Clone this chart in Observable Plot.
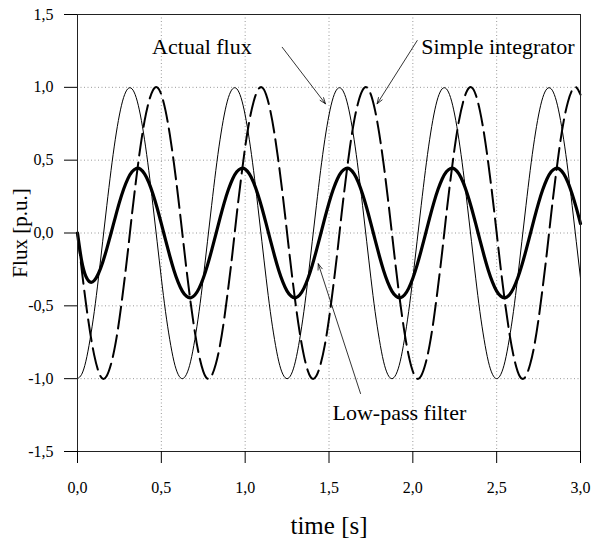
<!DOCTYPE html>
<html><head><meta charset="utf-8">
<script src="https://cdn.jsdelivr.net/npm/d3@7"></script>
<script src="https://cdn.jsdelivr.net/npm/@observablehq/plot@0.6"></script>
<style>body{margin:0;background:#fff}</style>
</head><body><div id="chart"></div>
<script>
// time samples every 0.025 s from 0 to 3 s
const timeStep = 0.025;
const xTicks = [0, 0.5, 1, 1.5, 2, 2.5, 3];
const yTicks = [-1.5, -1, -0.5, 0, 0.5, 1, 1.5];
const xGrid = [0.5, 1, 1.5, 2, 2.5];
const yGrid = [-1, -0.5, 0, 0.5, 1];

const actualFlux = [
-1,-0.97,-0.88,-0.73,-0.54,-0.31,-0.06,0.19,0.43,0.64,0.81,0.93,0.99,0.99,0.93,0.81,0.64,0.43,0.19,-0.06,-0.31,-0.54,-0.73,-0.88,-0.97,
-1,-0.97,-0.88,-0.73,-0.54,-0.31,-0.06,0.19,0.43,0.64,0.81,0.93,0.99,0.99,0.93,0.81,0.64,0.43,0.19,-0.06,-0.31,-0.54,-0.73,-0.88,-0.97,
-1,-0.97,-0.88,-0.73,-0.54,-0.31,-0.06,0.19,0.43,0.64,0.81,0.93,0.99,0.99,0.93,0.81,0.64,0.43,0.19,-0.06,-0.31,-0.54,-0.73,-0.88,-0.97,
-1,-0.97,-0.88,-0.73,-0.54,-0.31,-0.06,0.19,0.43,0.64,0.81,0.93,0.99,0.99,0.93,0.81,0.64,0.43,0.19,-0.06,-0.31,-0.54,-0.73,-0.88,-0.97,
-1,-0.97,-0.88,-0.73,-0.54,-0.31,-0.06,0.19,0.43,0.64,0.81,0.93,0.99,0.99,0.93,0.81,0.64,0.43,0.19,-0.06,-0.31
];
const simpleIntegrator = [
0,-0.25,-0.48,-0.68,-0.84,-0.95,-1,-0.98,-0.9,-0.77,-0.59,-0.37,-0.13,0.13,0.37,0.59,0.77,0.9,0.98,1,0.95,0.84,0.68,0.48,0.25,
0,-0.25,-0.48,-0.68,-0.84,-0.95,-1,-0.98,-0.9,-0.77,-0.59,-0.37,-0.13,0.13,0.37,0.59,0.77,0.9,0.98,1,0.95,0.84,0.68,0.48,0.25,
0,-0.25,-0.48,-0.68,-0.84,-0.95,-1,-0.98,-0.9,-0.77,-0.59,-0.37,-0.13,0.13,0.37,0.59,0.77,0.9,0.98,1,0.95,0.84,0.68,0.48,0.25,
0,-0.25,-0.48,-0.68,-0.84,-0.95,-1,-0.98,-0.9,-0.77,-0.59,-0.37,-0.13,0.13,0.37,0.59,0.77,0.9,0.98,1,0.95,0.84,0.68,0.48,0.25,
0,-0.25,-0.48,-0.68,-0.84,-0.95,-1,-0.98,-0.9,-0.77,-0.59,-0.37,-0.13,0.13,0.37,0.59,0.77,0.9,0.98,1,0.95
];
const lowPassFilter = [
0,-0.193,-0.298,-0.337,-0.326,-0.278,-0.202,-0.107,-0.002,0.106,0.21,0.3,0.372,0.42,0.443,0.439,0.406,0.348,0.268,0.172,0.064,-0.047,-0.156,-0.255,-0.337,
-0.399,-0.435,-0.445,-0.426,-0.38,-0.311,-0.222,-0.119,-0.009,0.102,0.207,0.298,0.371,0.42,0.443,0.439,0.406,0.348,0.268,0.172,0.064,-0.047,-0.156,-0.255,-0.337,
-0.399,-0.435,-0.445,-0.426,-0.38,-0.311,-0.222,-0.119,-0.009,0.102,0.207,0.298,0.371,0.42,0.443,0.439,0.406,0.348,0.268,0.172,0.064,-0.047,-0.156,-0.255,-0.337,
-0.399,-0.435,-0.445,-0.426,-0.38,-0.311,-0.222,-0.119,-0.009,0.102,0.207,0.298,0.371,0.42,0.443,0.439,0.406,0.348,0.268,0.172,0.064,-0.047,-0.156,-0.255,-0.337,
-0.399,-0.435,-0.445,-0.426,-0.38,-0.311,-0.222,-0.119,-0.009,0.102,0.207,0.298,0.371,0.42,0.443,0.439,0.406,0.348,0.268,0.172,0.064
];

const labelText = ["Actual flux", "Simple integrator", "Low-pass filter"];
const labelX = [0.742, 2.507, 1.92];
const labelY = [1.232, 1.232, -1.287];
const arrowX1 = [1.221, 2.026, 1.688];
const arrowY1 = [1.275, 1.321, -1.102];
const arrowX2 = [1.479, 1.787, 1.436];
const arrowY2 = [0.887, 0.887, -0.211];

const rows = vals => vals.map((v, i) => ({t: +(i * timeStep).toFixed(3), v}));
const labels = labelText.map((s, i) => ({s, x: labelX[i], y: labelY[i]}));
const arrows = arrowX1.map((x1, i) => ({x1, y1: arrowY1[i], x2: arrowX2[i], y2: arrowY2[i]}));
const fmt = d => d.toFixed(1).replace(".", ",");
const serif = "'Liberation Serif', 'Times New Roman', 'DejaVu Serif', serif";

const chart = Plot.plot({
  width: 593, height: 540,
  marginLeft: 77, marginRight: 13, marginTop: 14, marginBottom: 89,
  x: {domain: [0, 3]},
  y: {domain: [-1.5, 1.5]},
  style: {fontFamily: serif, fontSize: "16px", background: "#fff", color: "#000"},
  marks: [
    Plot.gridX(xGrid, {stroke: "#999", strokeOpacity: 1, strokeDasharray: "1,2.5"}),
    Plot.gridY(yGrid, {stroke: "#999", strokeOpacity: 1, strokeDasharray: "1,2.5"}),
    Plot.line(rows(actualFlux), {x: "t", y: "v", stroke: "#000", strokeWidth: 1, curve: "natural"}),
    Plot.line(rows(simpleIntegrator), {x: "t", y: "v", stroke: "#000", strokeWidth: 2, strokeDasharray: "22,7", curve: "natural"}),
    Plot.line(rows(lowPassFilter), {x: "t", y: "v", stroke: "#000", strokeWidth: 3.2, curve: "natural"}),
    Plot.frame({stroke: "#222"}),
    Plot.axisX(xTicks, {tickSize: 12, tickPadding: 18, tickFormat: fmt, fontSize: 16, label: null}),
    Plot.axisY(yTicks, {tickSize: 13, tickPadding: 11, tickFormat: fmt, fontSize: 16, label: null}),
    Plot.arrow(arrows, {x1: "x1", y1: "y1", x2: "x2", y2: "y2", stroke: "#000", strokeWidth: 0.8, headLength: 12, headAngle: 40}),
    Plot.text(labels, {x: "x", y: "y", text: "s", fontSize: 22, lineAnchor: "bottom", textAnchor: "middle", fill: "#000"}),
    Plot.text(["time [s]"], {frameAnchor: "bottom", dy: 82, fontSize: 25, lineAnchor: "bottom", textAnchor: "middle", fill: "#000"}),
    Plot.text(["Flux [p.u.]"], {frameAnchor: "left", dx: -51, rotate: -90, fontSize: 21, lineAnchor: "bottom", textAnchor: "middle", fill: "#000"})
  ]
});
document.getElementById("chart").appendChild(chart);
</script>
</body></html>
